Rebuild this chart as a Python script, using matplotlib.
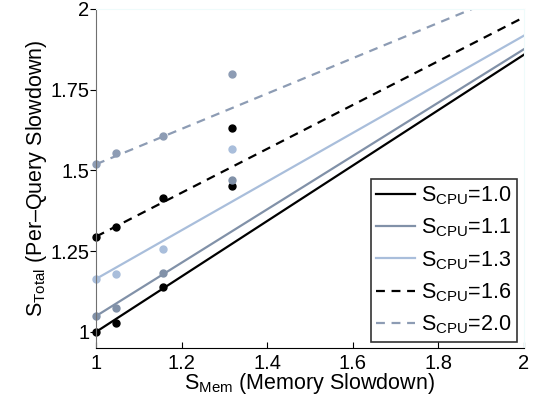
import matplotlib
matplotlib.use("Agg")
import matplotlib.pyplot as plt
import numpy as np

plt.rcParams["font.family"] = ["Liberation Sans", "DejaVu Sans"]
plt.rcParams["mathtext.fontset"] = "custom"
plt.rcParams["mathtext.rm"] = "Liberation Sans"
plt.rcParams["mathtext.it"] = "Liberation Sans"

# measured points (memory slowdown vs total slowdown)
s_mem = [1.0, 1.047, 1.157, 1.318]
cpu_labels = ["1.0", "1.1", "1.3", "1.6", "2.0"]
measured = [
    [1.000, 1.026, 1.138, 1.453],
    [1.049, 1.073, 1.182, 1.471],
    [1.164, 1.180, 1.258, 1.565],
    [1.295, 1.326, 1.414, 1.630],
    [1.519, 1.554, 1.607, 1.799],
]

# fitted lines, values at S_Mem = 1 and 2
fit_x = [1.0, 2.0]
fit_y = [
    [1.000, 1.858],
    [1.049, 1.875],
    [1.164, 1.917],
    [1.295, 1.974],
    [1.519, 2.066],
]

colors = ["#000000", "#8191a8", "#a9bedb", "#000000", "#8d9cb4"]
styles = ["-", "-", "-", "--", "--"]

fig = plt.figure(figsize=(5.34, 4.03), dpi=100)
ax = fig.add_axes([0.18, 0.1365, 0.801, 0.8415])

for i in range(len(cpu_labels)):
    ax.plot(fit_x, fit_y[i], color=colors[i], linestyle=styles[i], lw=1.6,
            dashes=(4, 3) if styles[i] == "--" else (None, None),
            label=r"$\mathregular{S_{CPU}}$=" + cpu_labels[i])
    ax.plot(s_mem, measured[i], "o", color=colors[i], ms=5, clip_on=False)

ax.set_xlim(1, 2)
ax.set_ylim(0.95, 2)
ax.set_xticks([1, 1.2, 1.4, 1.6, 1.8, 2])
ax.set_xticklabels(["1", "1.2", "1.4", "1.6", "1.8", "2"])
ax.set_yticks([1, 1.25, 1.5, 1.75, 2])
ax.set_yticklabels(["1", "1.25", "1.5", "1.75", "2"])
ax.tick_params(axis="x", direction="in", length=4, labelsize=14.5, pad=4)
ax.tick_params(axis="y", direction="out", length=4, labelsize=14.5, pad=1)

ax.spines["top"].set_color("#eefbfb")
ax.spines["right"].set_color("#eefbfb")
ax.spines["left"].set_color("#707070")
ax.spines["bottom"].set_color("#000000")

ax.set_xlabel(r"$\mathregular{S_{Mem}}$ (Memory Slowdown)", fontsize=15.5, labelpad=-1)
ax.set_ylabel(r"$\mathregular{S_{Total}}$ (Per–Query Slowdown)", fontsize=15.5, labelpad=1)

leg = ax.legend(loc="lower right", fontsize=15.5, frameon=True, fancybox=False,
                edgecolor="black", handlelength=1.8, handletextpad=0.3,
                labelspacing=0.45, borderpad=0.25, borderaxespad=0.3)
leg.get_frame().set_linewidth(1.2)

fig.savefig("out.png", dpi=100)
